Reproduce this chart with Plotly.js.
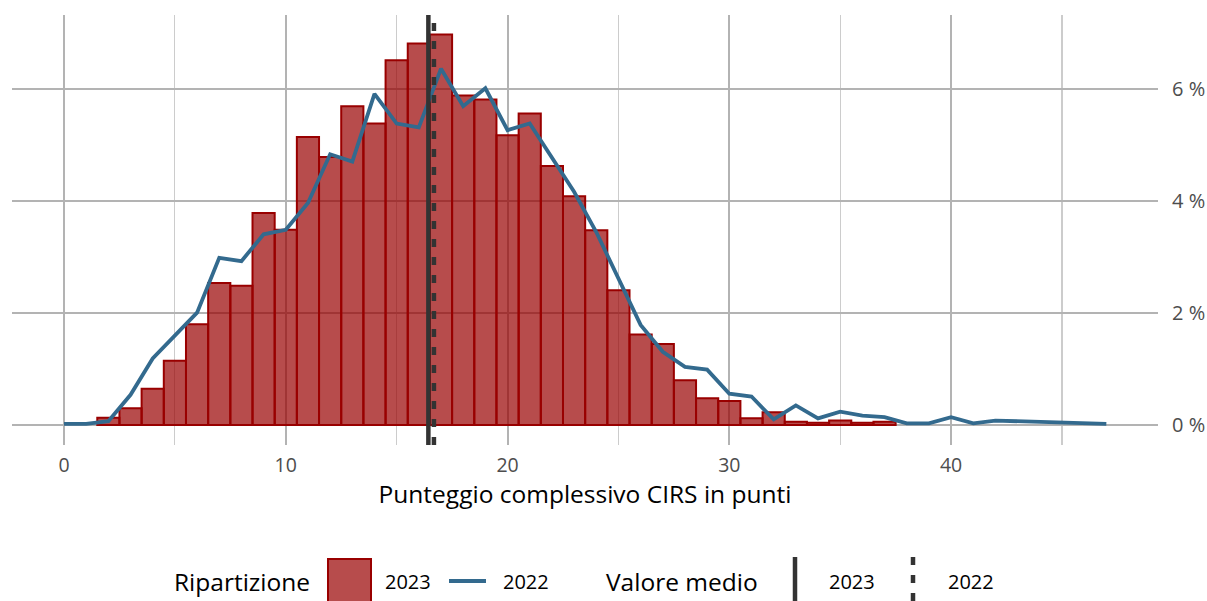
<!DOCTYPE html>
<html>
<head>
<meta charset="utf-8">
<script src="https://cdn.plot.ly/plotly-3.0.1.min.js"></script>
<style>html,body{margin:0;padding:0;background:#fff;}#chart{width:1207px;height:601px;}</style>
</head>
<body>
<div id="chart"></div>
<script>
// Distribuzione 2023 (barre) — punteggio CIRS e quota in %
const scores2023 = [2,3,4,5,6,7,8,9,10,11,12,13,14,15,16,17,18,19,20,21,22,23,24,25,26,27,28,29,30,31,32,33,34,35,36,37];
const pct2023 = [0.13,0.30,0.65,1.15,1.80,2.54,2.49,3.79,3.49,5.15,4.79,5.70,5.39,6.52,6.82,6.98,5.89,5.82,5.18,5.57,4.63,4.09,3.48,2.41,1.62,1.45,0.80,0.48,0.43,0.12,0.23,0.06,0.04,0.08,0.04,0.06];

// Distribuzione 2022 (linea)
const scores2022 = [0,1,2,3,4,5,6,7,8,9,10,11,12,13,14,15,16,17,18,19,20,21,22,23,24,25,26,27,28,29,30,31,32,33,34,35,36,37,38,39,40,41,42,47];
const pct2022 = [0.02,0.02,0.07,0.54,1.19,1.61,2.01,2.99,2.93,3.41,3.49,3.97,4.84,4.71,5.92,5.39,5.32,6.37,5.70,6.02,5.27,5.39,4.77,4.17,3.45,2.62,1.79,1.31,1.04,0.99,0.56,0.51,0.10,0.35,0.12,0.24,0.17,0.14,0.03,0.03,0.14,0.03,0.08,0.02];

// Valori medi
const meanYears = ['2023', '2022'];
const meanValues = [16.43, 16.68];

// Testi
const xTitle = 'Punteggio complessivo CIRS in punti';
const xTicks = [0, 10, 20, 30, 40];
const yTicks = [0, 2, 4, 6];
const legendTitle1 = 'Ripartizione';
const legendTitle2 = 'Valore medio';

const W = 1207, H = 601;
const M = {l: 12, r: 49, t: 15, b: 156};
const PW = W - M.l - M.r, PH = H - M.t - M.b;
const px = v => (v - M.l) / PW;
const py = v => (H - M.b - v) / PH;

const FONT = 'Open Sans, Noto Sans, sans-serif';
const BAR_FILL = 'rgba(153,0,0,0.7)';
const BAR_LINE = '#990000';
const LINE_COL = '#336a8e';
const MEAN_COL = '#333333';

const traces = [
  {
    type: 'bar', x: scores2023, y: pct2023, width: 1,
    marker: {color: BAR_FILL, line: {color: BAR_LINE, width: 2}},
    showlegend: false, hoverinfo: 'x+y'
  },
  {
    type: 'scatter', mode: 'lines', x: scores2022, y: pct2022,
    line: {color: LINE_COL, width: 3.8},
    showlegend: false
  }
];

const shapes = [];
const dashes = ['solid', '8px,10px'];
meanValues.forEach((m, i) => {
  shapes.push({type: 'line', xref: 'x', yref: 'paper', x0: m, x1: m, y0: 0, y1: 1,
    line: {color: MEAN_COL, width: 4.5, dash: dashes[i]}, layer: 'above'});
});

// Legenda manuale
const LY = 581;
shapes.push({type: 'rect', xref: 'paper', yref: 'paper', x0: px(328), x1: px(371), y0: py(604), y1: py(559),
  fillcolor: BAR_FILL, line: {color: BAR_LINE, width: 2}});
shapes.push({type: 'line', xref: 'paper', yref: 'paper', x0: px(449), x1: px(486), y0: py(LY), y1: py(LY),
  line: {color: LINE_COL, width: 4}});
shapes.push({type: 'line', xref: 'paper', yref: 'paper', x0: px(795), x1: px(795), y0: py(557), y1: py(604),
  line: {color: MEAN_COL, width: 4.5, dash: dashes[0]}});
shapes.push({type: 'line', xref: 'paper', yref: 'paper', x0: px(913), x1: px(913), y0: py(557), y1: py(604),
  line: {color: MEAN_COL, width: 4.5, dash: '8px,10px'}});

const ann = (x, text, size) => ({xref: 'paper', yref: 'paper', x: px(x), y: py(LY), xanchor: 'left', yanchor: 'middle',
  text: text, showarrow: false, font: {family: FONT, size: size, color: '#000'}});
const annotations = [
  ann(172, legendTitle1, 24.5),
  ann(383, meanYears[0], 20),
  ann(501, meanYears[1], 20),
  ann(604, legendTitle2, 24.5),
  ann(827, meanYears[0], 20),
  ann(946, meanYears[1], 20)
];

const layout = {
  width: W, height: H,
  margin: M,
  paper_bgcolor: '#fff', plot_bgcolor: '#fff',
  font: {family: FONT},
  showlegend: false,
  bargap: 0,
  xaxis: {
    range: [-2.345, 49.33], tickvals: xTicks, ticktext: xTicks.map(String),
    showgrid: true, gridcolor: '#b3b3b3', gridwidth: 2,
    minor: {tickvals: [5, 15, 25, 35, 45], showgrid: true, gridcolor: '#cccccc', gridwidth: 1.2},
    zeroline: false, showline: false, ticks: '',
    ticklabelstandoff: 6,
    tickfont: {family: FONT, size: 19.5, color: '#4d4d4d'},
    title: {text: xTitle, font: {family: FONT, size: 24.5, color: '#000'}, standoff: 4}
  },
  yaxis: {
    side: 'right', range: [-0.357, 7.33], tickvals: yTicks, ticktext: yTicks.map(v => v + ' %'),
    showgrid: true, gridcolor: '#b3b3b3', gridwidth: 2,
    zeroline: false, showline: false, ticks: '',
    ticklabelstandoff: 13,
    tickfont: {family: FONT, size: 20, color: '#4d4d4d'}
  },
  shapes: shapes,
  annotations: annotations
};

Plotly.newPlot('chart', traces, layout, {displayModeBar: false, staticPlot: true});
</script>
</body>
</html>
